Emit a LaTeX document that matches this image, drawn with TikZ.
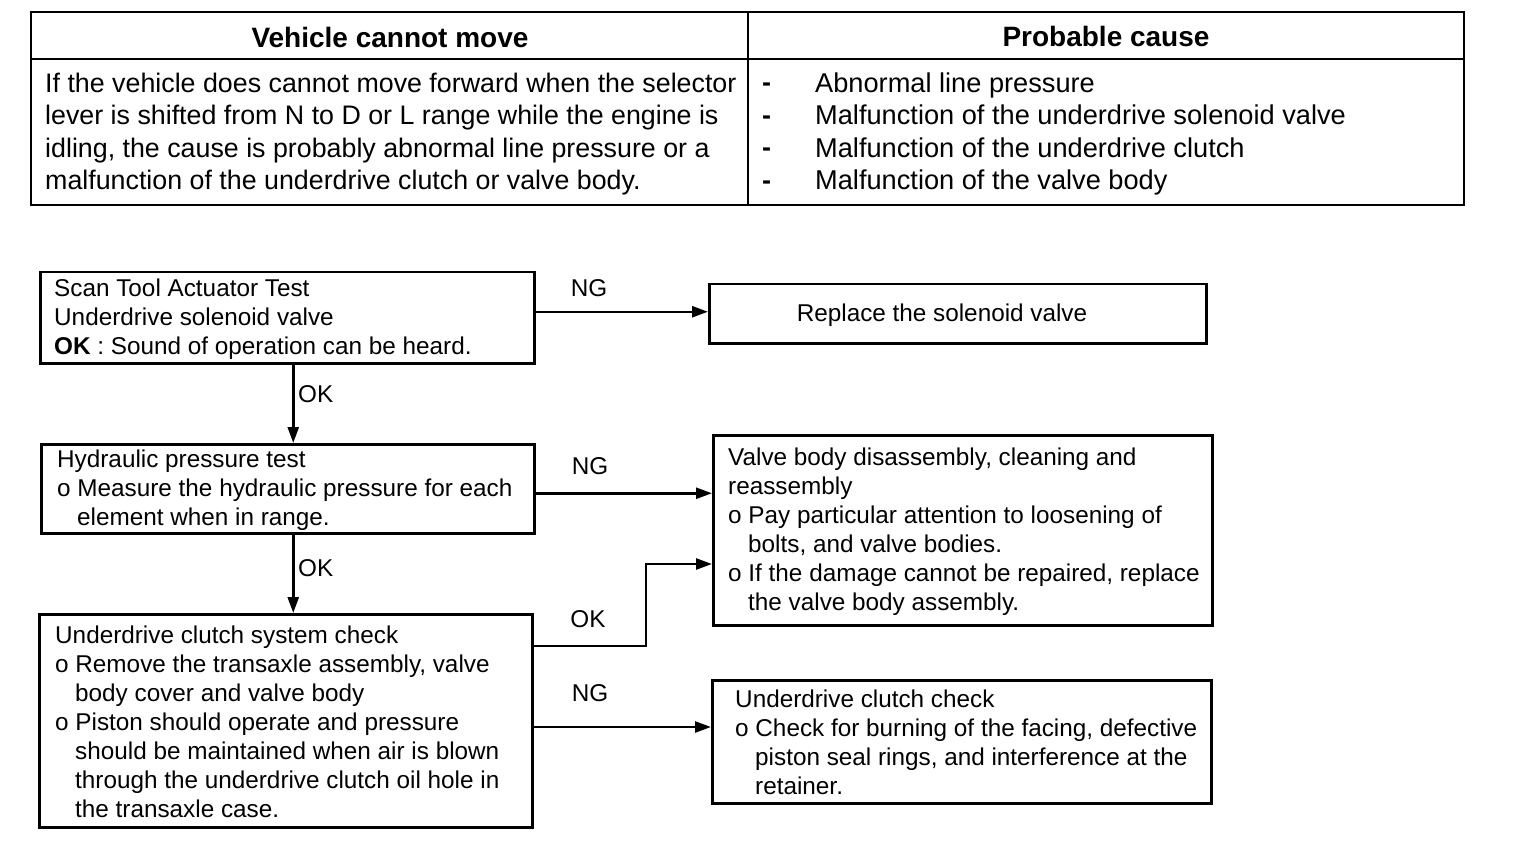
\documentclass[tikz,border=0pt]{standalone}
\usepackage{fontspec}
\setmainfont{Liberation Sans}
\usetikzlibrary{arrows.meta}
\newcommand\hind{\hspace*{20pt}}
\begin{document}
\begin{tikzpicture}[x=1pt,y=-1pt,
  box/.style={draw, line width=2.5pt, anchor=north west, inner sep=0pt},
  txt/.style={anchor=west, align=left, inner sep=0pt, font=\fontsize{24.3}{29}\selectfont},
  conn/.style={line width=2.5pt, -{Triangle[length=16pt,width=11pt]}},
  lbl/.style={font=\fontsize{24.3}{29}\selectfont, inner sep=0pt},
  tline/.style={line width=2.2pt},
  thead/.style={font=\bfseries\fontsize{28}{32.5}\selectfont, inner sep=0pt},
  tbody/.style={font=\fontsize{26.8}{32.5}\selectfont, inner sep=0pt, align=left, anchor=west}]
\useasboundingbox (0,0) rectangle (1536,842);
% table
\draw[tline] (31,12) rectangle (1464,205);
\draw[tline] (31,59) -- (1464,59);
\draw[tline] (748,12) -- (748,205);
\node[thead] (h1) at (390,37) {Vehicle cannot move};
\node[thead] (h2) at (1106,36) {Probable cause};
\node[tbody] (b1) at (45,134) {If the vehicle does cannot move forward when the selector\\lever is shifted from N to D or L range while the engine is\\idling, the cause is probably abnormal line pressure or a\\malfunction of the underdrive clutch or valve body.};
\node[tbody, font=\bfseries\fontsize{27}{32.5}\selectfont] (bd) at (762,136) {-\\-\\-\\-};
\node[tbody, font=\fontsize{27.2}{32.5}\selectfont] (b2) at (815,134) {Abnormal line pressure\\Malfunction of the underdrive solenoid valve\\Malfunction of the underdrive clutch\\Malfunction of the valve body};
% flowchart boxes
\node[box, minimum width=494, minimum height=91] (A) at (39,271) {};
\node[box, minimum width=497, minimum height=59] (B) at (708,283) {};
\node[box, minimum width=493, minimum height=89] (C) at (40,443) {};
\node[box, minimum width=499, minimum height=190] (D) at (712,434) {};
\node[box, minimum width=493, minimum height=213] (E) at (38,613) {};
\node[box, minimum width=499, minimum height=123] (F) at (711,679) {};
% box texts
\node[txt] (At) at ([xshift=15pt,yshift=-1.5pt]A.west)
 {Scan Tool Actuator Test\\Underdrive solenoid valve\\\textbf{OK} : Sound of operation can be heard.};
\node[lbl] (Bt) at (942,315) {Replace the solenoid valve};
\node[txt] (Ct) at ([xshift=17pt,yshift=-1.5pt]C.west)
 {Hydraulic pressure test\\o Measure the hydraulic pressure for each\\\hind element when in range.};
\node[txt] (Dt) at ([xshift=16pt,yshift=-1pt]D.west)
 {Valve body disassembly, cleaning and\\reassembly\\o Pay particular attention to loosening of\\\hind bolts, and valve bodies.\\o If the damage cannot be repaired, replace\\\hind the valve body assembly.};
\node[txt] (Et) at ([xshift=17pt,yshift=-1pt]E.west)
 {Underdrive clutch system check\\o Remove the transaxle assembly, valve\\\hind body cover and valve body\\o Piston should operate and pressure\\\hind should be maintained when air is blown\\\hind through the underdrive clutch oil hole in\\\hind the transaxle case.};
\node[txt] (Ft) at ([xshift=24pt,yshift=-1pt]F.west)
 {Underdrive clutch check\\o Check for burning of the facing, defective\\\hind piston seal rings, and interference at the\\\hind retainer.};
% connectors
\draw[conn] ([yshift=2pt]B.west -| A.east) -- ([yshift=2pt]B.west);
\draw[conn] ([xshift=6pt]A.south) -- ([xshift=6pt]A.south |- C.north);
\draw[conn] ([yshift=-4.5pt]C.east) -- ([yshift=-4.5pt]C.east -| D.west);
\draw[conn] ([xshift=5.5pt]C.south) -- ([xshift=5.5pt]C.south |- E.north);
\coordinate (dIn) at ([yshift=-130pt]D.north west);
\draw[conn] ([yshift=-33pt]E.north east) -| ([xshift=-66pt]dIn) -- (dIn);
\draw[conn] ([yshift=-114pt]E.north east) -- ([yshift=-114pt]E.north east -| F.west);
% labels
\node[lbl] (l1) at (589,288) {NG};
\node[lbl, anchor=west] (l2) at (298,394) {OK};
\node[lbl] (l3) at (590,466) {NG};
\node[lbl, anchor=west] (l4) at (298,568) {OK};
\node[lbl] (l5) at (588,619) {OK};
\node[lbl] (l6) at (590,693) {NG};
\end{tikzpicture}
\end{document}
